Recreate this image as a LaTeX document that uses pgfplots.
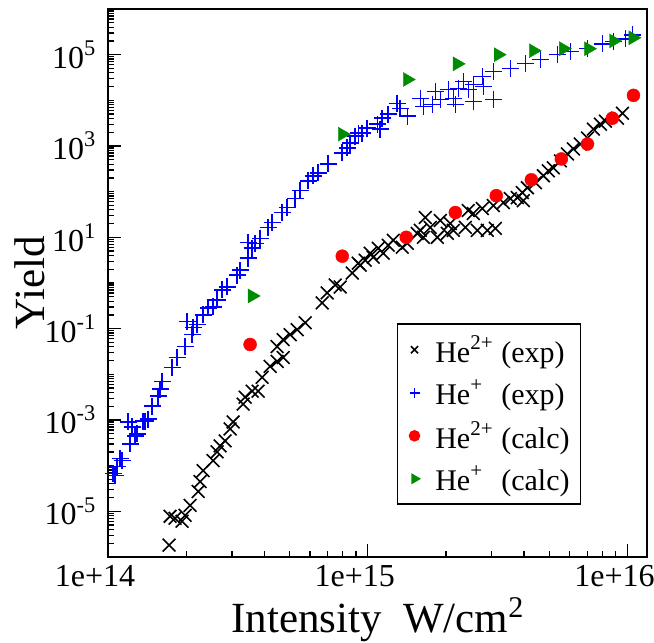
\documentclass[border=0pt]{standalone}
\usepackage{fontspec}
\setmainfont{Liberation Serif}
\usepackage{pgfplots}
\pgfplotsset{compat=1.18}
\usetikzlibrary{calc}

\definecolor{grblue}{RGB}{0,0,255}
\definecolor{grred}{RGB}{255,0,0}
\definecolor{grgreen}{RGB}{0,140,0}

% minor tick lists (1..9 x every decade)
\def\yminor{1e-6}
\foreach \e in {-6,...,5}{\foreach \m in {2,...,9}{\xdef\yminor{\yminor,\m e\e}}}
\foreach \e in {-5,...,6}{\xdef\yminor{\yminor,1e\e}}
\def\xminor{2e14}
\foreach \e in {14,15}{\foreach \m in {2,...,9}{\xdef\xminor{\xminor,\m e\e}}}

\newcommand{\supr}[1]{\raisebox{0.12em}{\textsuperscript{#1}}}

\begin{document}
\begin{tikzpicture}
\begin{axis}[
    xmode=log, ymode=log,
    scale only axis,
    width=539pt, height=548pt,
    xmin=1e14, xmax=1.19e16,
    ymin=1e-6, ymax=1e6,
    xtick={1e14,1e15,1e16},
    xticklabels={1e+14,1e+15,1e+16},
    ytick={1e-5,1e-3,1e-1,1e1,1e3,1e5},
    yticklabels={10\supr{-5},10\supr{-3},10\supr{-1},10\supr{1},10\supr{3},10\supr{5}},
    minor xtick/.expanded={\xminor},
    minor ytick/.expanded={\yminor},
    tick pos=left,
    tick align=inside,
    major tick length=13pt,
    minor tick length=6pt,
    every tick/.style={black, line width=1.3pt},
    axis line style={line width=2pt},
    tick label style={font=\fontsize{32}{32}\selectfont, inner sep=0pt},
    xticklabel style={anchor=north, yshift=-8pt, xshift=-13pt},
    yticklabel style={anchor=east, xshift=-12pt},
    xlabel={Intensity\ \ W/cm\supr{2}},
    ylabel={Yield},
    label style={font=\fontsize{43}{43}\selectfont},
    xlabel style={at={(axis description cs:0.5,-0.137)}, anchor=base},
    ylabel style={at={(axis description cs:-0.1447,0.5)}, anchor=center},
    legend style={at={(axis description cs:0.536,0.427)}, anchor=north west,
        draw=black, line width=1.5pt, font=\fontsize{30}{34}\selectfont,
        inner xsep=9pt, inner ysep=10pt, row sep=12pt},
    legend cell align=left,
    legend image code/.code={\draw[#1,mark size=5pt] plot coordinates {(0pt,0pt)};
        \path (-7pt,0pt) (18pt,0pt);},
]
% He2+ experiment
\addplot[only marks, mark=x, mark size=9pt, line width=1.6pt, black] table {
x y
1.718e14 1.82e-6
1.733e14 7.78e-6
1.812e14 7.05e-6
1.928e14 6.07e-6
1.981e14 8.18e-6
2.070e14 1.35e-5
2.223e14 2.72e-5
2.262e14 4.49e-5
2.323e14 7.78e-5
2.538e14 1.29e-4
2.630e14 2.01e-4
2.702e14 2.72e-4
2.824e14 3.49e-4
2.953e14 6.37e-4
3.032e14 9.05e-4
3.313e14 2.23e-3
3.373e14 3.16e-3
3.588e14 4.27e-3
3.784e14 4.27e-3
3.921e14 8.61e-3
4.210e14 1.49e-2
4.479e14 1.92e-2
4.724e14 2.34e-2
4.479e14 4.06e-2
4.724e14 5.77e-2
5.027e14 0.0741
5.349e14 0.0951
5.743e14 0.135
6.679e14 0.367
6.982e14 0.607
7.494e14 0.905
7.834e14 0.818
8.714e14 1.65
9.193e14 2.72
9.357e14 2.46
9.781e14 3.16
1.022e15 4.49
1.050e15 3.67
1.098e15 5.77
1.148e15 4.49
1.199e15 6.70
1.254e15 8.61
1.358e15 6.07
1.420e15 7.41
1.551e15 12.2
1.594e15 14.2
1.666e15 27.2
1.637e15 10
1.741e15 16.5
1.853e15 10
1.903e15 23.4
2.025e15 12.2
2.080e15 20.1
2.136e15 14.2
2.375e15 16.5
2.439e15 38.6
2.550e15 33.2
2.642e15 14.2
2.762e15 42.7
2.887e15 14.2
3.099e15 15.7
3.045e15 49.6
3.328e15 57.7
3.541e15 70.5
3.767e15 74.1
3.938e15 95.1
3.973e15 63.7
4.117e15 122
4.421e15 157
4.746e15 223
4.961e15 286
5.186e15 333
5.518e15 472
5.871e15 670
6.192e15 861
6.589e15 1104
7.015e15 1493
7.396e15 2344
7.870e15 3007
8.226e15 3491
9.152e15 4060
9.566e15 5212
};
\addlegendentry{\makebox[1.95em][l]{He\supr{2+}} (exp)}
% He+ experiment
\addplot[only marks, mark=+, mark size=8.5pt, line width=1.5pt, grblue] table {
x y
1.046e14 6.70e-5
1.064e14 6.07e-5
1.083e14 9.51e-5
1.112e14 1.42e-4
1.132e14 1.29e-4
1.194e14 9.05e-4
1.216e14 3.01e-4
1.237e14 7.05e-4
1.271e14 4.49e-4
1.294e14 4.97e-4
1.364e14 9.51e-4
1.388e14 9.51e-4
1.426e14 1.05e-3
1.478e14 2.01e-3
1.559e14 3.33e-3
1.586e14 4.72e-3
1.614e14 7.05e-3
1.765e14 1.42e-2
1.845e14 2.34e-2
1.981e14 4.06e-2
2.016e14 0.142
2.107e14 0.0741
2.126e14 0.105
2.203e14 0.122
2.323e14 0.201
2.428e14 0.286
2.538e14 0.301
2.630e14 0.427
2.750e14 0.705
2.875e14 0.818
3.141e14 1.49
3.226e14 1.92
3.463e14 3.49
3.463e14 7.78
3.588e14 5.77
3.685e14 7.41
3.852e14 9.51
4.136e14 16.5
4.285e14 21.2
4.683e14 34.9
4.896e14 44.9
5.255e14 70.5
5.495e14 105
5.899e14 173
6.166e14 223
6.446e14 259
7.043e14 406
7.977e14 705
8.337e14 905
8.562e14 1162
8.950e14 1650
9.193e14 1918
9.524e14 1918
9.956e14 2462
1.088e15 3007
1.117e15 2344
1.137e15 4060
1.199e15 4966
1.299e15 8610
1.334e15 6700
1.420e15 4487
1.594e15 11050
1.637e15 7410
1.773e15 8185
1.820e15 15700
1.903e15 10500
2.043e15 17340
2.136e15 11050
2.174e15 8185
2.232e15 18240
2.333e15 25880
2.439e15 17340
2.550e15 22280
2.550e15 9510
2.762e15 33230
2.787e15 20140
3.045e15 42690
3.045e15 10500
3.541e15 49640
4.046e15 63680
4.620e15 77840
5.375e15 100000
6.030e15 116200
7.015e15 135000
8.011e15 173000
8.833e15 192000
9.824e15 223000
1.045e16 272000
};
\addlegendentry{\makebox[1.95em][l]{He\supr{+}} (exp)}
% He2+ calculation
\addplot[only marks, mark=*, mark size=6.5pt, grred] table {
x y
3.524e14 0.045
7.98e14 3.87
1.407e15 10
2.174e15 34.9
3.126e15 81.8
4.266e15 182
5.567e15 521
7.015e15 1104
8.752e15 4060
1.055e16 12850
};
\addlegendentry{\makebox[1.95em][l]{He\supr{2+}} (calc)}
% He+ calculation
\addplot[only marks, mark=triangle*, mark size=8pt, mark options={rotate=-90}, grgreen] table {
x y
3.59e14 0.52
7.98e14 1820
1.42e15 28600
2.21e15 63000
3.18e15 100000
4.34e15 122000
5.67e15 135000
7.08e15 135000
8.84e15 200000
1.05e16 234000
};
\addlegendentry{\makebox[1.95em][l]{He\supr{+}} (calc)}
\end{axis}
\pgfresetboundingbox
\path ($(current axis.south west)+(-108pt,-85pt)$) rectangle ($(current axis.north east)+(7pt,9pt)$);
\end{tikzpicture}
\end{document}
